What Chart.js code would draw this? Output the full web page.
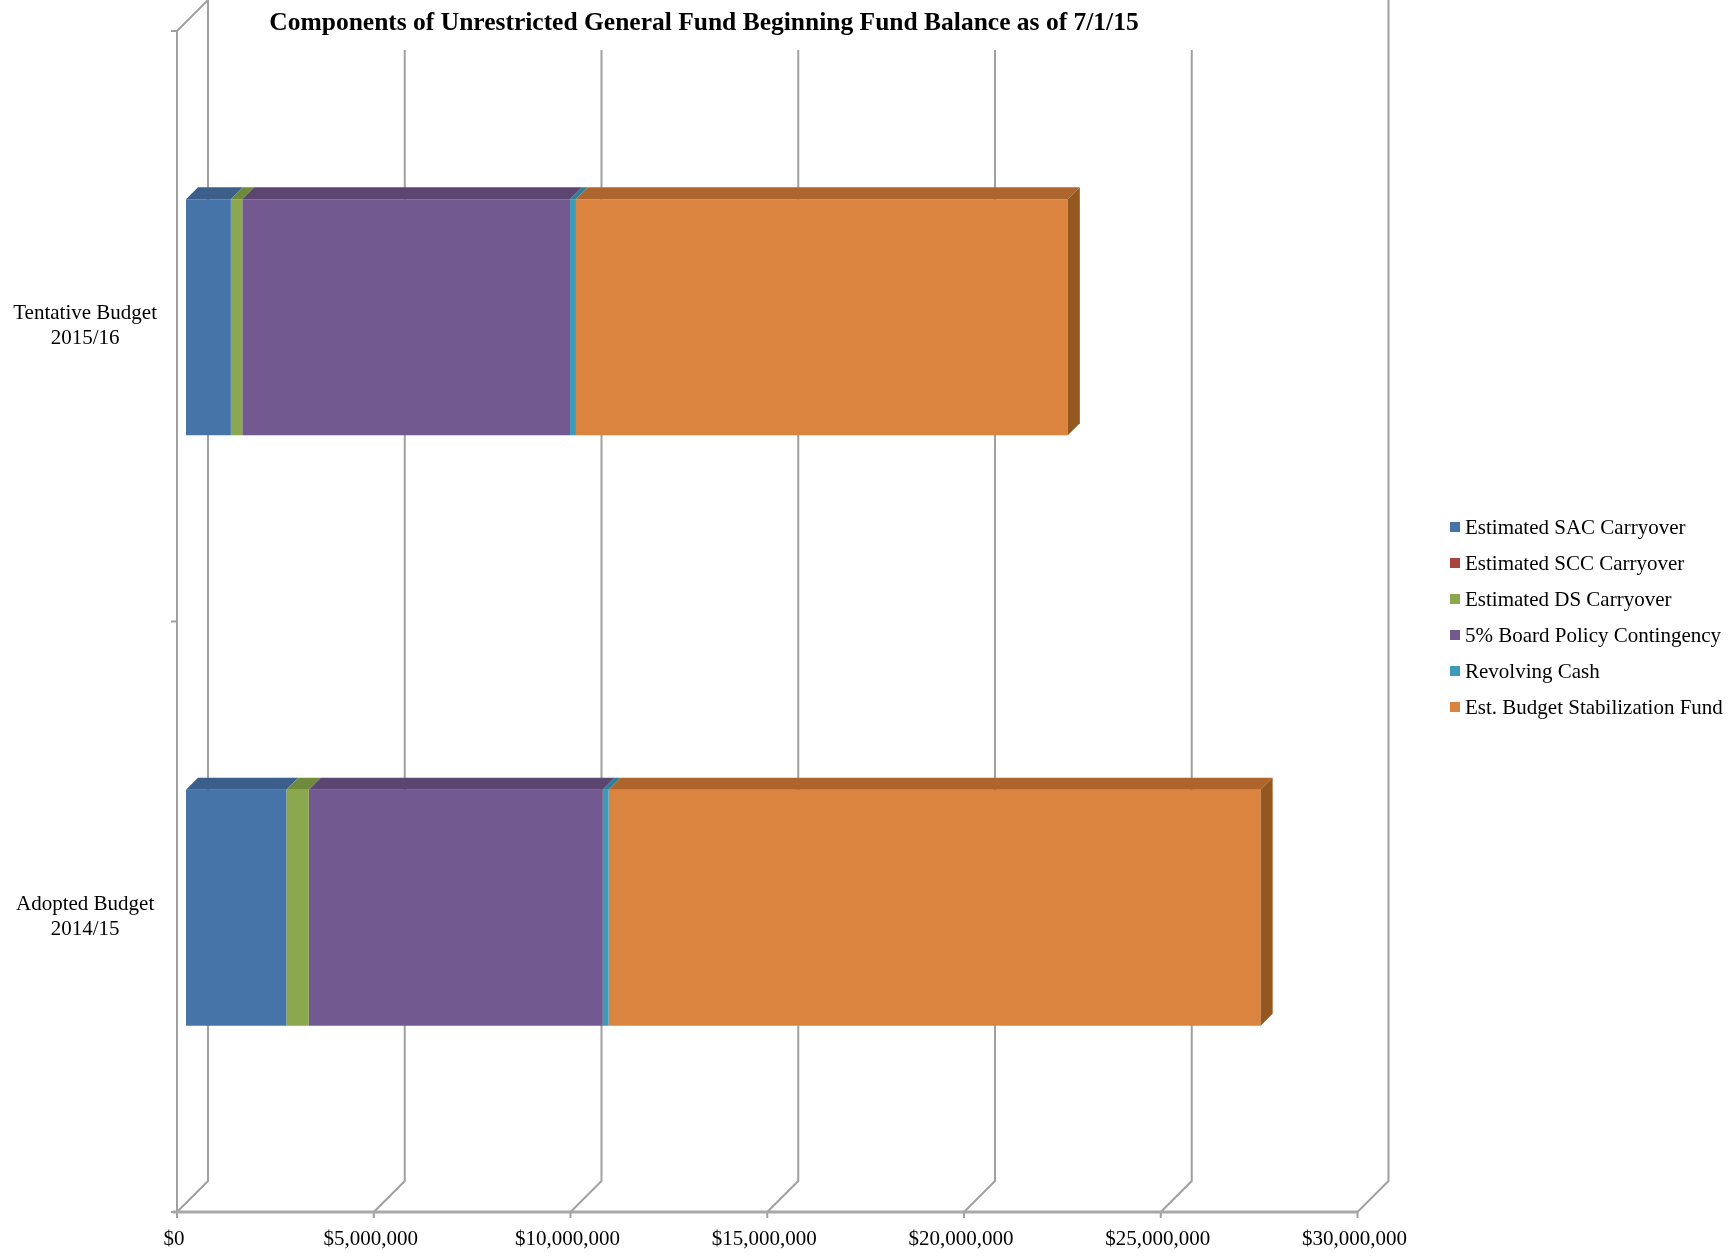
<!DOCTYPE html>
<html>
<head>
<meta charset="utf-8">
<title>Components of Unrestricted General Fund Beginning Fund Balance</title>
<script src="https://cdn.jsdelivr.net/npm/chart.js@4.4.1/dist/chart.umd.min.js"></script>
<style>
  body { margin: 0; background: #fff; }
  #wrap { position: relative; width: 1732px; height: 1257px; }
  #legend { position: absolute; left: 1450px; top: 0; font-family: "Liberation Serif", "Times New Roman", serif; font-size: 21px; color: #000; }
  .row { position: absolute; left: 0; height: 24px; line-height: 24px; white-space: nowrap; }
  .box { position: absolute; left: 0; top: 7px; width: 10px; height: 10px; }
  .txt { position: absolute; left: 15px; top: 0; }
</style>
</head>
<body>
<div id="wrap">
  <canvas id="chart" width="1732" height="1257"></canvas>
  <div id="legend"></div>
</div>
<script>
// categories (top to bottom)
var categories = [['Tentative Budget', '2015/16'], ['Adopted Budget', '2014/15']]
var seriesNames = ['Estimated SAC Carryover', 'Estimated SCC Carryover', 'Estimated DS Carryover',
  '5% Board Policy Contingency', 'Revolving Cash', 'Est. Budget Stabilization Fund']

// values in dollars, per category
var sacCarryover = [1140000, 2550000]
var sccCarryover = [0, 0]
var dsCarryover = [290000, 570000]
var boardContingency = [8330000, 7470000]
var revolvingCash = [150000, 150000]
var budgetStabilization = [12500000, 16570000]

var tickMin = 0
var tickMax = 30000000
var tickStep = 5000000

var chartTitle = 'Components of Unrestricted General Fund Beginning Fund Balance as of 7/1/15'

// styles
var frontColors = ['#4674a8', '#a9443f', '#8ca84e', '#725a90', '#3d9bb8', '#db843f']
var topColors = ['#3b5e8a', '#8a3532', '#6f8a3c', '#5b4672', '#2f7f96', '#ae652d']
var sideColor = '#94571f'
var FONT = '"Liberation Serif", "Times New Roman", serif'
var FRONT = 9   // front wall offset from the bar plane
var BACK = 22   // back wall offset from the bar plane
var DEPTH = 12  // bar depth

var seriesValues = [sacCarryover, sccCarryover, dsCarryover, boardContingency, revolvingCash, budgetStabilization]

var walls = {
  id: 'walls',
  beforeDatasetsDraw: function (chart) {
    var ctx = chart.ctx, a = chart.chartArea, x = chart.scales.x
    var ft = a.top + FRONT, fb = a.bottom + FRONT, bt = a.top - BACK, bb = a.bottom - BACK
    var x0 = x.getPixelForValue(tickMin), x1 = x.getPixelForValue(tickMax)
    ctx.save()
    ctx.strokeStyle = '#a0a0a0'
    ctx.lineWidth = 2
    x.ticks.forEach(function (t) {
      var px = x.getPixelForValue(t.value)
      ctx.beginPath()
      ctx.moveTo(px + BACK, bt)
      ctx.lineTo(px + BACK, bb)
      ctx.lineTo(px - FRONT, fb)
      ctx.stroke()
      // small tick below the floor
      ctx.beginPath()
      ctx.moveTo(px - FRONT, fb)
      ctx.lineTo(px - FRONT, fb + 6)
      ctx.stroke()
    })
    // left wall front edge
    ctx.beginPath()
    ctx.moveTo(x0 + BACK, bt)
    ctx.lineTo(x0 - FRONT, ft)
    ctx.lineTo(x0 - FRONT, fb)
    ctx.stroke()
    // category ticks on the left wall
    var mid = (a.top + a.bottom) / 2 + FRONT;
    [ft, mid, fb].forEach(function (yy) {
      ctx.beginPath()
      ctx.moveTo(x0 - FRONT - 6, yy)
      ctx.lineTo(x0 - FRONT, yy)
      ctx.stroke()
    })
    // floor front edge
    ctx.lineWidth = 3
    ctx.strokeStyle = '#a8a8a8'
    ctx.beginPath()
    ctx.moveTo(x0 - FRONT - 4, fb)
    ctx.lineTo(x1 - FRONT, fb)
    ctx.stroke()

    // title box covers the top of the back wall
    ctx.fillStyle = '#fff'
    ctx.fillRect(x0 + BACK + 14, 0, (x1 - x0) - 30, 50)
    ctx.fillStyle = '#000'
    ctx.font = 'bold 25.5px ' + FONT
    ctx.textAlign = 'center'
    ctx.textBaseline = 'middle'
    ctx.fillText(chartTitle, 704, 23)
    ctx.restore()
  },
  afterDatasetsDraw: function (chart) {
    var ctx = chart.ctx
    var last = chart.data.datasets.length - 1
    ctx.save()
    chart.data.datasets.forEach(function (ds, i) {
      var meta = chart.getDatasetMeta(i)
      meta.data.forEach(function (bar, j) {
        if (!ds.data[j]) return
        var p = bar.getProps(['x', 'y', 'base', 'height'], true)
        var l = Math.min(p.base, p.x), r = Math.max(p.base, p.x)
        var top = p.y - p.height / 2, bot = p.y + p.height / 2
        ctx.fillStyle = topColors[i]
        ctx.beginPath()
        ctx.moveTo(l, top)
        ctx.lineTo(r, top)
        ctx.lineTo(r + DEPTH, top - DEPTH)
        ctx.lineTo(l + DEPTH, top - DEPTH)
        ctx.closePath()
        ctx.fill()
        if (i === last) {
          ctx.fillStyle = sideColor
          ctx.beginPath()
          ctx.moveTo(r, top)
          ctx.lineTo(r + DEPTH, top - DEPTH)
          ctx.lineTo(r + DEPTH, bot - DEPTH)
          ctx.lineTo(r, bot)
          ctx.closePath()
          ctx.fill()
        }
      })
    })
    ctx.restore()
  }
}

var datasets = seriesNames.map(function (name, i) {
  return {
    label: name,
    data: seriesValues[i],
    backgroundColor: frontColors[i],
    borderWidth: 0,
    barPercentage: 0.8,
    categoryPercentage: 0.5
  }
})

var chart = new Chart(document.getElementById('chart').getContext('2d'), {
  type: 'bar',
  data: { labels: categories, datasets: datasets },
  plugins: [walls],
  options: {
    indexAxis: 'y',
    responsive: false,
    animation: false,
    layout: { padding: { top: 22, right: 365.5, bottom: 0, left: 0 } },
    plugins: {
      legend: { display: false },
      title: { display: false },
      tooltip: { enabled: false }
    },
    scales: {
      x: {
        stacked: true,
        min: tickMin,
        max: tickMax,
        grid: { display: false, drawTicks: false },
        border: { display: false },
        afterFit: function (s) { s.height = 54; s.paddingLeft = 0; s.paddingRight = 0 },
        ticks: {
          stepSize: tickStep,
          padding: 24,
          labelOffset: -12,
          maxRotation: 0,
          autoSkip: false,
          color: '#000',
          font: { family: FONT, size: 21 },
          callback: function (v) { return '$' + Number(v).toLocaleString('en-US') }
        }
      },
      y: {
        stacked: true,
        grid: { display: false, drawTicks: false },
        border: { display: false },
        afterFit: function (s) { s.width = 186; s.paddingTop = 0; s.paddingBottom = 0 },
        ticks: {
          crossAlign: 'center',
          padding: 29,
          labelOffset: FRONT,
          color: '#000',
          font: { family: FONT, size: 21 }
        }
      }
    }
  }
})

// legend
var legend = document.getElementById('legend')
seriesNames.forEach(function (name, i) {
  var row = document.createElement('div')
  row.className = 'row'
  row.style.top = (526.7 - 12 + 36.1 * i) + 'px'
  var box = document.createElement('span')
  box.className = 'box'
  box.style.background = frontColors[i]
  var txt = document.createElement('span')
  txt.className = 'txt'
  txt.textContent = name
  row.appendChild(box)
  row.appendChild(txt)
  legend.appendChild(row)
})
</script>
</body>
</html>
